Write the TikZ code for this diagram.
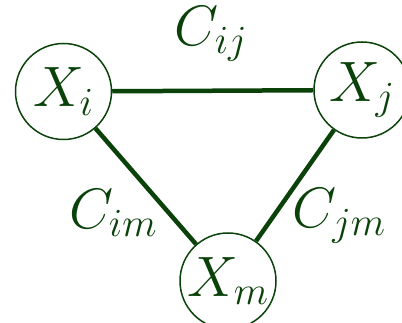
\documentclass[tikz,border=0pt]{standalone}
\usepackage{fix-cm}
\definecolor{dg}{RGB}{10,66,10}
\begin{document}
\begin{tikzpicture}[x=1pt,y=-1pt,
  var/.style={circle,draw=dg,line width=1.5pt,minimum size=96pt,inner sep=0pt,text=dg,font=\fontsize{57}{60}\selectfont},
  lab/.style={text=dg,font=\fontsize{57}{60}\selectfont,inner sep=0pt},
  edge/.style={draw=dg,line width=4.5pt}]
\useasboundingbox (0,0) rectangle (402,323);
\node[var] (Xi) at (63.5,91.5) {$X_i$};
\node[var] (Xj) at (362,90) {$X_j$};
\node[var] (Xm) at (228,281) {$X_m$};
\draw[edge] (Xi) -- (Xj);
\draw[edge] (Xi) -- (Xm);
\draw[edge] (Xj) -- (Xm);
\node[lab] (Cij) at (211,34) {$C_{ij}$};
\node[lab] (Cim) at (113,213) {$C_{im}$};
\node[lab] (Cjm) at (339,216) {$C_{jm}$};
\end{tikzpicture}
\end{document}
